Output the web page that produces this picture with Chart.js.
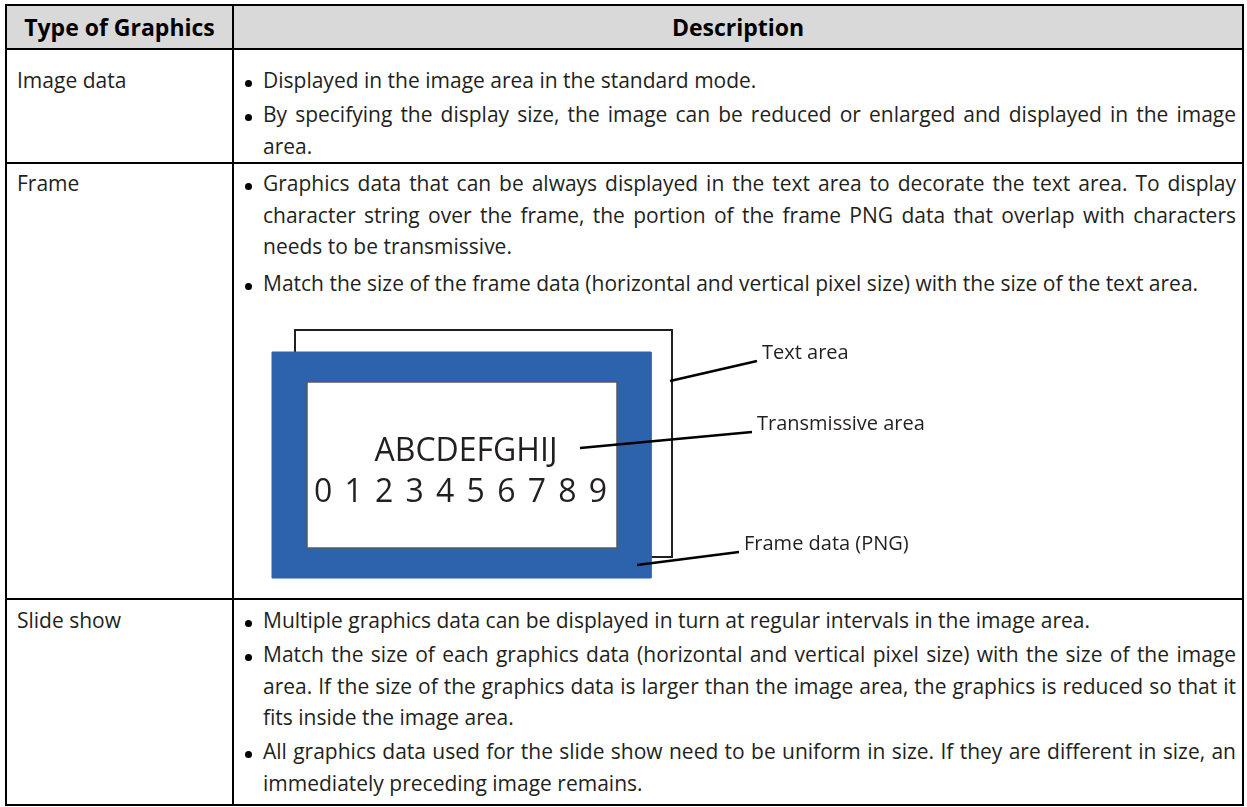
<!DOCTYPE html>
<html>
<head>
<meta charset="utf-8">
<script src="https://cdn.jsdelivr.net/npm/chart.js@4.4.0/dist/chart.umd.min.js"></script>
<style>
  body { margin:0; width:1247px; height:807px; overflow:hidden; background:#fff;
         font-family:'Open Sans', sans-serif; color:#231f20; position:relative; }
  .ln { position:absolute; background:#000; }
  .hdbg { position:absolute; left:7px; top:6px; width:1235px; height:42px; background:#d9d9d9; }
  .hd { position:absolute; top:6px; height:42px; line-height:42px; font-weight:bold; font-size:23px; text-align:center; color:#000; }
  .lbl { position:absolute; left:17px; font-size:21px; line-height:31.5px; }
  .bul { position:absolute; left:263px; width:973px; font-size:21px; line-height:31.5px; }
  .bul div { text-align:justify; text-align-last:justify; }
  .bul div:last-child { text-align-last:left; }
  .dot { position:absolute; left:-18px; width:7px; height:7px; border-radius:50%; background:#000; }
  #frameChart { position:absolute; left:250px; top:315px; }
</style>
</head>
<body>
<div class="hdbg"></div>
<div id="table"></div>
<canvas id="frameChart" width="700" height="275"></canvas>
<script>
// table text
const headers = ['Type of Graphics', 'Description'];
const rowLabels = ['Image data', 'Frame', 'Slide show'];
const imageDataNotes = [
  ['Displayed in the image area in the standard mode.'],
  ['By specifying the display size, the image can be reduced or enlarged and displayed in the image',
   'area.']
];
const frameNotes = [
  ['Graphics data that can be always displayed in the text area to decorate the text area. To display',
   'character string over the frame, the portion of the frame PNG data that overlap with characters',
   'needs to be transmissive.'],
  ['Match the size of the frame data (horizontal and vertical pixel size) with the size of the text area.']
];
const slideShowNotes = [
  ['Multiple graphics data can be displayed in turn at regular intervals in the image area.'],
  ['Match the size of each graphics data (horizontal and vertical pixel size) with the size of the image',
   'area. If the size of the graphics data is larger than the image area, the graphics is reduced so that it',
   'fits inside the image area.'],
  ['All graphics data used for the slide show need to be uniform in size. If they are different in size, an',
   'immediately preceding image remains.']
];

// frame diagram (diagram units)
const textAreaBox = [45, 422, 15, 242];
const frameBox = [22, 401, 37, 263];
const transBox = [57, 367, 67, 233];
const sampleLetters = 'ABCDEFGHIJ';
const sampleDigits = ['0', '1', '2', '3', '4', '5', '6', '7', '8', '9'];
const calloutLabels = ['Text area', 'Transmissive area', 'Frame data (PNG)'];
const calloutFrom = [[420, 66], [330, 133], [387, 250]];
const calloutTo = [[507, 46], [502, 117], [489, 237]];

// layout of the table (page pixels)
const rowTops = [65, 168, 605];
const noteTops = [[65, 99], [168, 268], [605, 639, 736]];

const page = document.getElementById('table');
function add(cls, css, text) {
  const d = document.createElement('div');
  d.className = cls;
  Object.assign(d.style, css);
  if (text) d.textContent = text;
  page.appendChild(d);
  return d;
}

// grid lines
add('ln', {left:'5px', top:'4px', width:'1239px', height:'2px'});
add('ln', {left:'5px', top:'4px', width:'2px', height:'802px'});
add('ln', {left:'1242px', top:'4px', width:'2px', height:'802px'});
add('ln', {left:'232px', top:'4px', width:'2px', height:'802px'});
add('ln', {left:'5px', top:'48px', width:'1239px', height:'2px'});
add('ln', {left:'5px', top:'162px', width:'1239px', height:'2px'});
add('ln', {left:'5px', top:'598px', width:'1239px', height:'2px'});
add('ln', {left:'5px', top:'804px', width:'1239px', height:'2px'});

add('hd', {left:'7px', width:'225px'}, headers[0]);
add('hd', {left:'234px', width:'1008px'}, headers[1]);

[imageDataNotes, frameNotes, slideShowNotes].forEach(function (notes, r) {
  add('lbl', {top: rowTops[r] + 'px'}, rowLabels[r]);
  notes.forEach(function (lines, i) {
    const b = add('bul', {top: noteTops[r][i] + 'px'});
    const dot = document.createElement('span');
    dot.className = 'dot';
    dot.style.top = '14.5px';
    b.appendChild(dot);
    lines.forEach(function (t) {
      const l = document.createElement('div');
      l.textContent = t;
      b.appendChild(l);
    });
  });
});

// diagram
function box(b) {
  return [{x:b[0], y:b[2]}, {x:b[1], y:b[2]}, {x:b[1], y:b[3]}, {x:b[0], y:b[3]}, {x:b[0], y:b[2]}];
}

const diagramText = {
  id: 'diagramText',
  afterDatasetsDraw(chart) {
    const ctx = chart.ctx;
    const x = chart.scales.x, y = chart.scales.y;
    ctx.save();
    ctx.fillStyle = '#231f20';
    ctx.textBaseline = 'middle';
    // letters, centred in the transmissive area
    ctx.font = '32px "Open Sans"';
    ctx.textAlign = 'center';
    const cx = (transBox[0] + transBox[1]) / 2;
    ctx.fillText(sampleLetters, x.getPixelForValue(cx + 4), y.getPixelForValue(137));
    // digits spread across the area
    ctx.textAlign = 'left';
    const x0 = x.getPixelForValue(transBox[0] + 7), x1 = x.getPixelForValue(transBox[1] - 10);
    const w = ctx.measureText('0').width;
    const step = (x1 - x0 - w) / (sampleDigits.length - 1);
    sampleDigits.forEach(function (d, i) {
      ctx.fillText(d, x0 + i * step, y.getPixelForValue(178));
    });
    // callout labels
    ctx.font = '20px "Open Sans"';
    calloutLabels.forEach(function (t, i) {
      ctx.fillText(t, x.getPixelForValue(calloutTo[i][0] + 5), y.getPixelForValue(calloutTo[i][1] - 8));
    });
    ctx.restore();
  }
};

const leaderSets = calloutLabels.map(function (t, i) {
  return {
    label: t,
    data: [{x: calloutFrom[i][0], y: calloutFrom[i][1]}, {x: calloutTo[i][0], y: calloutTo[i][1]}],
    showLine: true, borderColor: '#000', borderWidth: 2.5, pointRadius: 0, fill: false, order: 1
  };
});

new Chart(document.getElementById('frameChart'), {
  type: 'scatter',
  data: {
    datasets: [
      { label: 'Text area', data: box(textAreaBox), showLine: true, borderColor: '#231f20', borderWidth: 2,
        borderCapStyle: 'square', pointRadius: 0, fill: false, order: 5 },
      { label: 'Frame data', data: box(frameBox), showLine: true, borderColor: '#2d63ad', borderWidth: 1,
        backgroundColor: '#2d63ad', pointRadius: 0, fill: 'shape', order: 4 },
      { label: 'Transmissive area', data: box(transBox), showLine: true, borderColor: '#58595b', borderWidth: 1.5,
        borderCapStyle: 'square', backgroundColor: '#ffffff', pointRadius: 0, fill: 'shape', order: 3 }
    ].concat(leaderSets)
  },
  options: {
    responsive: false,
    animation: false,
    layout: { padding: 0 },
    plugins: { legend: { display: false }, tooltip: { enabled: false } },
    scales: {
      x: { type: 'linear', min: 0, max: 700, display: false },
      y: { type: 'linear', min: 0, max: 275, reverse: true, display: false }
    }
  },
  plugins: [diagramText]
});
</script>
</body>
</html>
